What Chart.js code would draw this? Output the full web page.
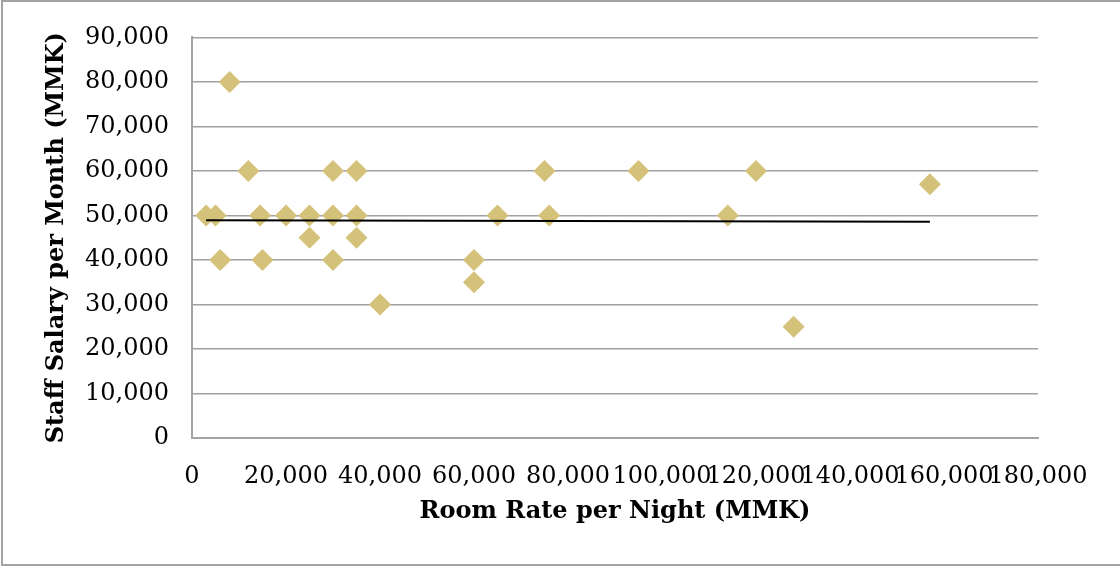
<!DOCTYPE html>
<html lang="en">
  <head>
    <meta charset="utf-8" />
    <title>Room Rate vs Staff Salary</title>
    <script src="https://cdn.jsdelivr.net/npm/chart.js"></script>
    <style>
      body { margin: 0; background: #fff; }
      #wrap { position: relative; width: 1120px; height: 567px; overflow: hidden; }
      #frame {
        position: absolute; left: 1px; top: 0px; width: 1200px; height: 562px;
        border: 2px solid #a3a3a3; pointer-events: none;
      }
    </style>
  </head>
  <body>
    <div id="wrap">
      <canvas id="myChart" width="1120" height="567"></canvas>
      <div id="frame"></div>
    </div>
    <script>
      // room rate per night (MMK) and staff salary per month (MMK), one entry per hotel
      const roomRate = [
        3000, 5000, 6000, 8000, 12000, 14500, 15000, 20000, 25000, 25000,
        30000, 30000, 30000, 35000, 35000, 35000, 40000, 60000, 60000, 65000,
        75000, 76000, 95000, 114000, 120000, 128000, 157000,
      ]
      const staffSalary = [
        50000, 50000, 40000, 80000, 60000, 50000, 40000, 50000, 50000, 45000,
        60000, 50000, 40000, 60000, 50000, 45000, 30000, 40000, 35000, 50000,
        60000, 50000, 60000, 50000, 60000, 25000, 57000,
      ]
      // linear trend line end points
      const trendX = [3000, 157000]
      const trendY = [48900, 48600]

      const points = roomRate.map((x, i) => ({ x: x, y: staffSalary[i] }))
      const trend = trendX.map((x, i) => ({ x: x, y: trendY[i] }))

      const tickFont = { family: 'DejaVu Serif', size: 24 }
      const titleFont = { family: 'DejaVu Serif', size: 24, weight: 'bold' }
      const fmt = (v) => Number(v).toLocaleString('en-US')

      const config = {
        type: 'scatter',
        data: {
          datasets: [
            {
              label: 'Trend',
              data: trend,
              showLine: true,
              borderColor: '#000',
              borderWidth: 2,
              pointRadius: 0,
              order: 0,
            },
            {
              label: 'Staff Salary',
              data: points,
              pointStyle: 'rectRot',
              pointRadius: 11,
              pointHoverRadius: 11,
              backgroundColor: '#d5c27a',
              borderWidth: 0,
              order: 1,
            },
          ],
        },
        options: {
          responsive: false,
          animation: false,
          layout: { padding: { left: 0, right: 82, top: 37, bottom: 0 } },
          plugins: { legend: { display: false }, tooltip: { enabled: false } },
          scales: {
            x: {
              type: 'linear',
              min: 0,
              max: 180000,
              afterFit: (scale) => { scale.height = 129 },
              grid: { display: false, drawTicks: false },
              border: { display: true, color: '#a3a3a3', width: 2 },
              ticks: {
                stepSize: 20000,
                autoSkip: false,
                maxRotation: 0,
                minRotation: 0,
                padding: 24,
                color: '#000',
                font: tickFont,
                callback: fmt,
              },
              title: {
                display: true,
                text: 'Room Rate per Night (MMK)',
                color: '#000',
                font: titleFont,
                padding: { top: 0, bottom: 41 },
              },
            },
            y: {
              type: 'linear',
              min: 0,
              max: 90000,
              afterFit: (scale) => { scale.width = 192 },
              grid: { color: '#a0a0a0', lineWidth: 1.5, drawTicks: false },
              border: { display: true, color: '#a3a3a3', width: 2 },
              ticks: {
                stepSize: 10000,
                padding: 23,
                color: '#000',
                font: tickFont,
                callback: fmt,
              },
              title: {
                display: true,
                text: 'Staff Salary per Month (MMK)',
                color: '#000',
                font: titleFont,
                padding: { top: 42, bottom: 0 },
              },
            },
          },
        },
      }

      var myChart = new Chart(document.getElementById('myChart'), config)
    </script>
  </body>
</html>
